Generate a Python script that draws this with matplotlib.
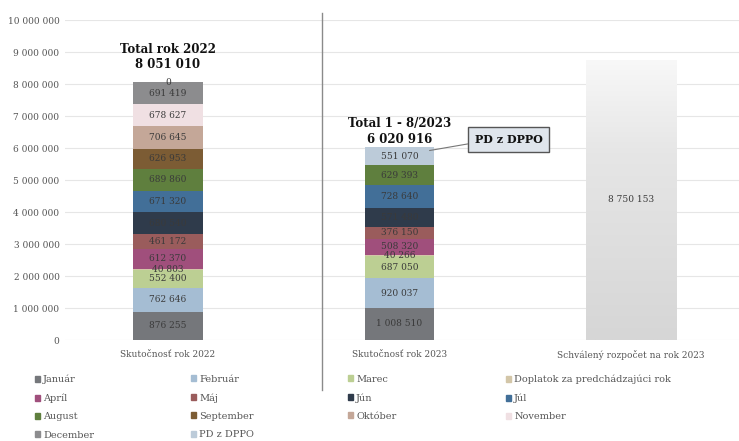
import numpy as np
import matplotlib
matplotlib.use("Agg")
import matplotlib.pyplot as plt
from matplotlib.lines import Line2D
from matplotlib.colors import LinearSegmentedColormap

plt.rcParams['font.family'] = ['DejaVu Serif']

# categories on the x axis
categories = ["Skutočnosť rok 2022", "Skutočnosť rok 2023", "Schválený rozpočet na rok 2023"]

# stacked series (bottom -> top), values for 2022 and 1-8/2023
series = ["Január", "Február", "Marec", "Doplatok za predchádzajúci rok", "Apríl", "Máj",
          "Jún", "Júl", "August", "September", "Október", "November", "December", "PD z DPPO"]
vals_2022 = [876255, 762646, 552400, 40803, 612370, 461172, 680540, 671320, 689860,
             626953, 706645, 678627, 691419, 0]
vals_2023 = [1008510, 920037, 687050, 40266, 508320, 376150, 571480, 728640, 629393,
             None, None, None, None, 551070]
colors = ["#75777b", "#a5bdd3", "#bccf93", "#d3c6a8", "#a04f7c", "#9a5c5c",
          "#2f3b4b", "#426f98", "#5f7f3e", "#7c5c34", "#c4a798", "#f0e0e3",
          "#8c8c8e", "#bccbd9"]

budget_2023 = 8750153
total_2022 = 8051010
total_2023 = 6020916


def fmt(v):
    return f"{v:,.0f}".replace(",", " ")


fig = plt.figure(figsize=(7.39, 4.41), dpi=100)
ax = fig.add_axes([65 / 739, 101 / 441, 674 / 739, 320 / 441])

w = 0.30
for ci, vals in enumerate([vals_2022, vals_2023]):
    bottom = 0
    for name, v, c in zip(series, vals, colors):
        if v is None:
            continue
        ax.bar(ci, v, w, bottom=bottom, color=c, zorder=2)
        ax.text(ci, bottom + v / 2, fmt(v), ha='center', va='center',
                fontsize=6.5, color='#3a3a3a', zorder=3)
        bottom += v

# approved budget bar with a soft gradient
bb = ax.bar(2, budget_2023, 0.39, color='none', zorder=2)[0]
cmap = LinearSegmentedColormap.from_list("g", ["#d6d6d6", "#dedede", "#e6e6e6", "#f8f8f8"])
grad = np.linspace(0, 1, 256).reshape(-1, 1)
im = ax.imshow(grad, cmap=cmap, aspect='auto', origin='lower', zorder=2,
               extent=[bb.get_x(), bb.get_x() + bb.get_width(), 0, budget_2023])
im.set_clip_path(bb)
ax.text(2, budget_2023 / 2, fmt(budget_2023), ha='center', va='center',
        fontsize=6.5, color='#3a3a3a', zorder=3)

# totals above bars
ax.annotate(f"Total rok 2022\n{fmt(total_2022)}", (0, total_2022), xytext=(0, 8),
            textcoords='offset points', ha='center', va='bottom',
            fontsize=8.5, fontweight='bold', color='#111', linespacing=1.25)
ax.annotate(f"Total 1 - 8/2023\n{fmt(total_2023)}", (1, total_2023), xytext=(0, 1),
            textcoords='offset points', ha='center', va='bottom',
            fontsize=8.5, fontweight='bold', color='#111', linespacing=1.25)

# callout
ax.annotate("PD z DPPO", (1 + w / 2 - 0.02, total_2023 - 100000), xytext=(57, 8),
            textcoords='offset points', ha='center', va='center',
            fontsize=8, fontweight='bold', color='#111',
            bbox=dict(boxstyle='square,pad=0.6', fc='#dfe5ec', ec='#555555', lw=1),
            arrowprops=dict(arrowstyle='-', color='#777777', lw=0.8,
                            shrinkA=0, shrinkB=0, relpos=(0, 0.2)),
            zorder=5)

ax.set_xlim(-0.445, 2.467)
ax.set_ylim(0, 10000000)
ax.set_yticks(np.arange(0, 10000001, 1000000))
ax.set_yticklabels([fmt(t) for t in np.arange(0, 10000001, 1000000)])
ax.set_xticks(range(3))
ax.set_xticklabels(categories)
ax.tick_params(length=0, labelsize=6.5, colors='#555555')
ax.tick_params(axis='y', pad=4)
ax.tick_params(axis='x', pad=7)
ax.grid(axis='y', color='#e6e6e6', lw=0.8, zorder=0)
for s in ax.spines.values():
    s.set_visible(False)

# separator line
fig.add_artist(Line2D([322 / 739, 322 / 739], [1 - 13 / 441, 1 - 390 / 441],
                      color='#8a8a8a', lw=1, transform=fig.transFigure))

# legend: four columns laid out row by row
col_x = [30, 186, 343, 501]
for col in range(4):
    idx = list(range(col, len(series), 4))
    handles = [plt.Rectangle((0, 0), 1, 1, color=colors[i]) for i in idx]
    fig.legend(handles, [series[i] for i in idx], loc='upper left',
               bbox_to_anchor=(col_x[col] / 739, 1 - 370 / 441),
               frameon=False, fontsize=7, handlelength=0.55, handleheight=0.55,
               handletextpad=0.3, labelspacing=0.95, borderpad=0,
               labelcolor='#555555')

fig.savefig("out.png", dpi=100)
